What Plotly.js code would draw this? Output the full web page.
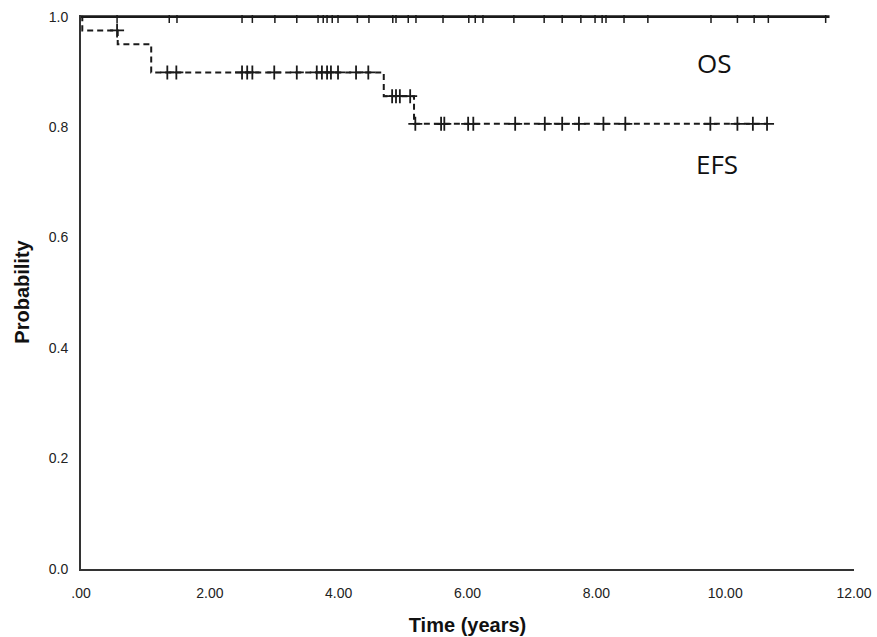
<!DOCTYPE html>
<html>
<head>
<meta charset="utf-8">
<script src="https://cdn.plot.ly/plotly-3.0.1.min.js"></script>
<style>html,body{margin:0;padding:0;background:#fff;}#chart{width:877px;height:637px;}</style>
</head>
<body>
<div id="chart"></div>
<script>
// EFS Kaplan-Meier steps (time in years, survival probability)
const efsTimes = [0, 0.02, 0.57, 1.09, 4.70, 5.17, 10.65];
const efsSurv  = [1.0, 0.975, 0.950, 0.899, 0.856, 0.806, 0.806];

// EFS censored observations
const efsCensorTimes = [0.56,
  1.34, 1.48, 2.50, 2.58, 2.66, 3.00, 3.35, 3.66, 3.74, 3.82, 3.88, 3.99, 4.27, 4.46,
  4.83, 4.89, 4.95, 5.11,
  5.19, 5.59, 5.64, 6.01, 6.09, 6.74, 7.20, 7.47, 7.73, 8.11, 8.45, 9.77, 10.19, 10.43, 10.65];
const efsCensorSurv = [0.975,
  0.899, 0.899, 0.899, 0.899, 0.899, 0.899, 0.899, 0.899, 0.899, 0.899, 0.899, 0.899, 0.899, 0.899,
  0.856, 0.856, 0.856, 0.856,
  0.806, 0.806, 0.806, 0.806, 0.806, 0.806, 0.806, 0.806, 0.806, 0.806, 0.806, 0.806, 0.806, 0.806, 0.806];

// OS: no deaths, survival stays 1.0
const osTimes = [0, 11.62];
const osSurv  = [1.0, 1.0];
const osCensorTimes = [0.56, 1.37, 1.49, 2.50, 2.66, 3.01, 3.35, 3.68, 3.76, 3.82, 3.90, 3.99,
  4.29, 4.47, 4.84, 4.89, 5.08, 5.20, 5.62, 6.02, 6.12, 6.24, 6.72, 7.19, 7.47, 7.76, 7.98,
  8.09, 8.15, 8.43, 8.80, 9.78, 10.19, 10.45, 10.67, 11.56];
const osCensorSurv = osCensorTimes.map(() => 1.0);

const xTickVals = [0, 2, 4, 6, 8, 10, 12];
const xTickText = ['.00', '2.00', '4.00', '6.00', '8.00', '10.00', '12.00'];
const yTickVals = [0, 0.2, 0.4, 0.6, 0.8, 1.0];
const yTickText = ['0.0', '0.2', '0.4', '0.6', '0.8', '1.0'];

const curveLabels = [
  {text: 'OS', x: 9.82, y: 0.917},
  {text: 'EFS', x: 9.87, y: 0.733}
];

const ink = '#1a1a1a';
const sans = 'Liberation Sans, Arial, sans-serif';

const traces = [
  {x: efsTimes, y: efsSurv, type: 'scatter', mode: 'lines', line: {shape: 'hv', color: ink, width: 2, dash: '6px,4px'}, hoverinfo: 'skip'},
  {x: efsCensorTimes, y: efsCensorSurv, type: 'scatter', mode: 'markers', marker: {symbol: 'cross-thin', size: 10, line: {color: ink, width: 1.8}}, hoverinfo: 'skip'},
  {x: osTimes, y: osSurv, type: 'scatter', mode: 'lines', line: {color: ink, width: 2.6}, hoverinfo: 'skip'},
  {x: osCensorTimes, y: osCensorSurv, type: 'scatter', mode: 'markers', marker: {symbol: 'line-ns', size: 9, line: {color: ink, width: 1.5}}, hoverinfo: 'skip'}
];

const layout = {
  width: 877, height: 637,
  margin: {l: 81, r: 23, t: 15, b: 67.5},
  paper_bgcolor: '#fff', plot_bgcolor: '#fff',
  showlegend: false,
  font: {family: sans, color: '#222', size: 14},
  xaxis: {
    range: [0, 12], tickvals: xTickVals, ticktext: xTickText,
    showgrid: false, zeroline: false, showline: true, linecolor: '#333', linewidth: 2,
    ticks: '', ticklabelstandoff: 10,
    tickfont: {family: sans, size: 14, color: '#222'},
    title: {text: 'Time (years)', standoff: 18, font: {family: sans, size: 20, color: '#111', weight: 'bold'}}
  },
  yaxis: {
    range: [0, 1.003], tickvals: yTickVals, ticktext: yTickText,
    showgrid: false, zeroline: false, showline: true, linecolor: '#333', linewidth: 2,
    ticks: '', ticklabelstandoff: 8,
    tickfont: {family: sans, size: 14, color: '#222'},
    title: {text: 'Probability', standoff: 14, font: {family: sans, size: 20, color: '#111', weight: 'bold'}}
  },
  annotations: curveLabels.map(l => ({
    text: l.text, x: l.x, y: l.y, xref: 'x', yref: 'y', showarrow: false,
    xanchor: 'center', yanchor: 'middle',
    font: {family: 'Open Sans, sans-serif', size: 26, color: '#111'}
  }))
};

Plotly.newPlot('chart', traces, layout, {staticPlot: true, displayModeBar: false});
</script>
</body>
</html>
